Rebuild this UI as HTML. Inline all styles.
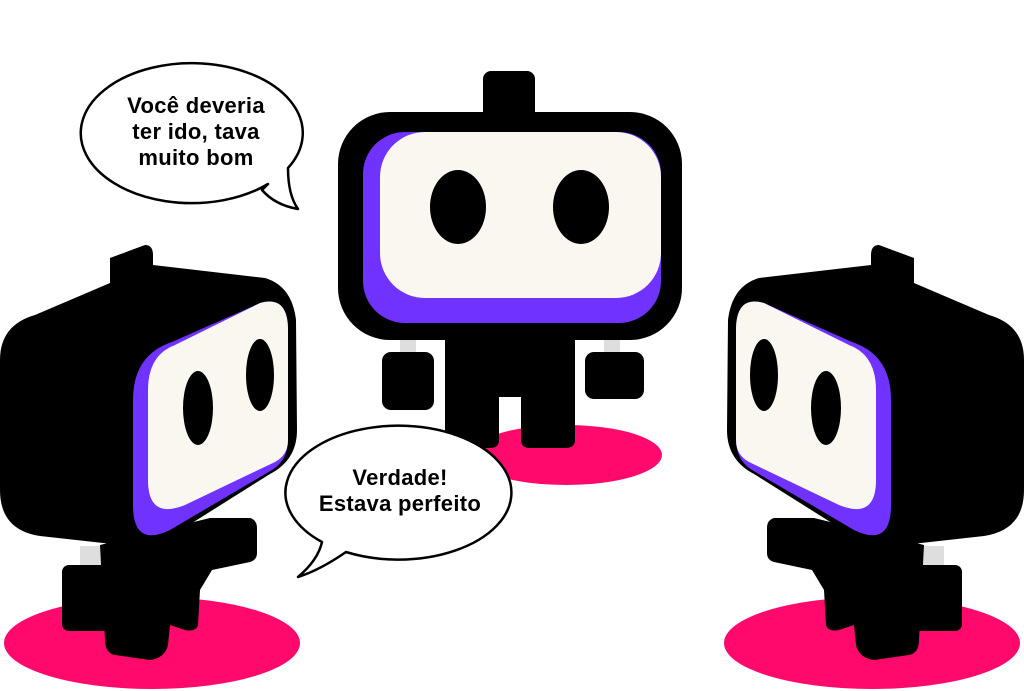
<!DOCTYPE html>
<html><head><meta charset="utf-8"><style>
html,body{margin:0;padding:0;background:#fff;}
svg{display:block;}
text{font-family:"Liberation Sans",sans-serif;font-weight:bold;font-size:22px;fill:#000;letter-spacing:0.3px;}
</style></head><body>
<svg width="1024" height="691" viewBox="0 0 1024 691" xmlns="http://www.w3.org/2000/svg">
<defs>
<g id="side">
  <ellipse cx="152" cy="643" rx="148" ry="46" fill="#ff0a6c"/>
  <rect x="80" y="546" width="30" height="24" fill="#dedede"/>
  <rect x="62" y="565" width="48" height="66" rx="7" fill="#000"/>
  <path d="M100,545 L210,518 L250,518 Q257,520 257,528 L257,553 Q257,560 250,562 L212,570 L200,590 L198,625 Q196,632 185,630 L170,625 L168,645 Q165,658 150,660 L115,655 Q105,653 105,640 Z" fill="#000"/>
  <path d="M0,360 Q0,325 35,315 L110,283 L110,258 L145,245 Q153,245 153,255 L153,265 L265,278 Q292,286 296,320 L297,430 Q297,460 270,474 L165,540 Q150,548 130,546 L40,536 Q0,530 0,490 Z" fill="#000"/>
  <path d="M172,342 L260,303 Q288,295 288,330 L288,440 Q288,460 272,470 L170,530 Q133,548 133,505 L133,400 Q133,355 172,342 Z" fill="#6f32ff"/>
  <path d="M175,345 L260,303 Q288,295 288,330 L288,440 Q288,455 275,462 L185,505 Q148,520 148,480 L148,390 Q148,355 175,345 Z" fill="#faf6f0"/>
  <ellipse cx="198" cy="408" rx="15" ry="37" fill="#000"/>
  <ellipse cx="260" cy="375" rx="14" ry="36" fill="#000"/>
</g>
</defs>

<!-- center robot -->
<ellipse cx="566" cy="455" rx="96" ry="30" fill="#ff0a6c"/>
<rect x="400" y="336" width="16" height="20" fill="#dedede"/>
<rect x="604" y="336" width="16" height="20" fill="#dedede"/>
<rect x="382" y="352" width="52" height="58" rx="9" fill="#000"/>
<rect x="585" y="352" width="59" height="47" rx="9" fill="#000"/>
<path d="M445,330 L575,330 L575,440 Q575,448 565,448 L530,448 Q521,448 521,440 L521,397 L499,397 L499,440 Q499,448 490,448 L455,448 Q445,448 445,440 Z" fill="#000"/>
<rect x="483" y="71" width="52" height="50" rx="8" fill="#000"/>
<rect x="338" y="112" width="344" height="228" rx="52" fill="#000"/>
<rect x="363" y="132" width="298" height="191" rx="42" fill="#6f32ff"/>
<rect x="380" y="132" width="281" height="166" rx="45" fill="#faf6f0"/>
<ellipse cx="458" cy="207" rx="28" ry="37" fill="#000"/>
<ellipse cx="581" cy="207" rx="28" ry="37" fill="#000"/>

<!-- side robots -->
<use href="#side"/>
<use href="#side" transform="translate(1024,0) scale(-1,1)"/>

<!-- bubble 1 -->
<path d="M268,184 A111,70 0 1 1 288,168 Q288,195 298,209 Q275,205 262,190 Z" fill="#fff" stroke="#000" stroke-width="2.5" stroke-linejoin="round"/>
<text x="196" y="113" text-anchor="middle">Você deveria</text>
<text x="196" y="139" text-anchor="middle">ter ido, tava</text>
<text x="196" y="165" text-anchor="middle">muito bom</text>

<!-- bubble 2 -->
<path d="M322,542 A113,67 0 1 1 346,552 Q320,570 298,577 Q318,560 322,542 Z" fill="#fff" stroke="#000" stroke-width="2.5" stroke-linejoin="round"/>
<text x="400" y="485" text-anchor="middle">Verdade!</text>
<text x="400" y="511" text-anchor="middle">Estava perfeito</text>
</svg>
</body></html>
